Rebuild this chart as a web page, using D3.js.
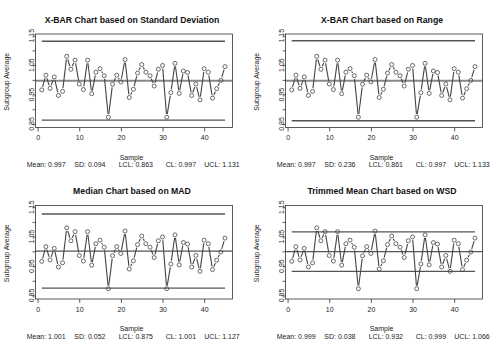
<!DOCTYPE html>
<html>
<head>
<meta charset="utf-8">
<title>Control charts</title>
<script src="https://cdn.jsdelivr.net/npm/d3@7"></script>
<style>
html, body { margin: 0; padding: 0; background: #fff; }
svg { display: block; font-family: "Liberation Sans", Arial, sans-serif; }
</style>
</head>
<body>
<div id="chart"></div>
<script>
// subgroup averages (same samples on all four charts)
const subgroupAvg = [
    0.966, 1.016, 0.971, 1.010, 0.947, 0.961, 1.080, 1.036, 1.067, 0.986,
    0.967, 1.067, 0.953, 1.026, 1.038, 1.014, 0.873, 0.985, 1.016, 0.993,
    1.069, 0.940, 0.968, 1.023, 1.052, 1.026, 1.014, 0.979, 1.036, 1.049,
    0.873, 0.957, 1.056, 0.954, 1.030, 1.025, 0.947, 0.986, 0.932, 1.038,
    1.026, 0.938, 0.970, 0.998, 1.045
];

const titles = [
    "X-BAR Chart based on Standard Deviation",
    "X-BAR Chart based on Range",
    "Median Chart based on MAD",
    "Trimmed Mean Chart based on WSD"
];
const means = [0.997, 0.997, 1.001, 0.999];
const sds   = [0.094, 0.236, 0.052, 0.038];
const lcls  = [0.863, 0.861, 0.875, 0.932];
const cls   = [0.997, 0.997, 1.001, 0.999];
const ucls  = [1.131, 1.133, 1.127, 1.066];

const xTicks = [0, 10, 20, 30, 40];
const yTicks = [0.85, 0.90, 0.95, 1.00, 1.05, 1.10, 1.15];
const yLabels = [0.85, 0.95, 1.05, 1.15];

const W = 500, H = 343;
const svg = d3.select("#chart").append("svg").attr("width", W).attr("height", H);

// plot box inside one panel
const box = { left: 35.5, right: 232.5, top: 34, bottom: 127.5 };
const x = d3.scaleLinear().domain([-0.5, 46.8]).range([box.left, box.right]);
const y = d3.scaleLinear().domain([0.85, 1.15]).range([124, 35.7]);

const ink = "#333";

titles.forEach(function(t, i) {
    const g = svg.append("g")
        .attr("transform", "translate(" + (i % 2) * 250 + "," + Math.floor(i / 2) * 171.5 + ")");

    g.append("text").attr("x", 132).attr("y", 22.5)
        .attr("text-anchor", "middle").attr("font-size", 8.7).attr("font-weight", "bold")
        .attr("fill", "#111").text(t);

    // limit lines
    g.append("line").attr("x1", box.left).attr("x2", box.right)
        .attr("y1", y(cls[i])).attr("y2", y(cls[i]))
        .attr("stroke", i < 2 ? "#888" : "#555").attr("stroke-width", i < 2 ? 2 : 1.3);
    [lcls[i], ucls[i]].forEach(function(v) {
        g.append("line").attr("x1", x(1)).attr("x2", x(subgroupAvg.length))
            .attr("y1", y(v)).attr("y2", y(v))
            .attr("stroke", "#555").attr("stroke-width", 1.4);
    });

    // points + broken connecting lines (type "b")
    const pts = subgroupAvg.map(function(v, k) { return [x(k + 1), y(v)]; });
    const gap = 3.2;
    for (let k = 0; k < pts.length - 1; k++) {
        const a = pts[k], b = pts[k + 1];
        const dx = b[0] - a[0], dy = b[1] - a[1];
        const len = Math.sqrt(dx * dx + dy * dy);
        if (len <= 2 * gap) continue;
        const ux = dx / len, uy = dy / len;
        g.append("line")
            .attr("x1", a[0] + ux * gap).attr("y1", a[1] + uy * gap)
            .attr("x2", b[0] - ux * gap).attr("y2", b[1] - uy * gap)
            .attr("stroke", "#444").attr("stroke-width", 1.1);
    }
    g.selectAll("circle.pt").data(pts).enter().append("circle")
        .attr("class", "pt")
        .attr("cx", function(d) { return d[0]; })
        .attr("cy", function(d) { return d[1]; })
        .attr("r", 2).attr("fill", "none").attr("stroke", "#444").attr("stroke-width", 0.8);

    // box
    g.append("rect").attr("x", box.left).attr("y", box.top)
        .attr("width", box.right - box.left).attr("height", box.bottom - box.top)
        .attr("fill", "none").attr("stroke", ink).attr("stroke-width", 0.8);

    // x axis
    const xa = g.append("g").attr("transform", "translate(0," + box.bottom + ")")
        .call(d3.axisBottom(x).tickValues(xTicks).tickSize(4).tickPadding(4).tickFormat(d3.format("d")));
    xa.select(".domain").remove();
    xa.selectAll("line").attr("stroke", ink).attr("stroke-width", 0.8);
    xa.selectAll("text").attr("font-size", 7).attr("fill", "#222").attr("font-family", null);

    // y axis, labels rotated like base R
    const ya = g.append("g").attr("transform", "translate(" + box.left + ",0)")
        .call(d3.axisLeft(y).tickValues(yTicks).tickSize(3).tickFormat(""));
    ya.select(".domain").remove();
    ya.selectAll("line").attr("stroke", ink).attr("stroke-width", 0.8);
    g.selectAll("text.ylab").data(yLabels).enter().append("text")
        .attr("class", "ylab")
        .attr("transform", function(d) { return "translate(33.8," + y(d) + ") rotate(-90)"; })
        .attr("text-anchor", "middle").attr("font-size", 7).attr("fill", "#222")
        .text(function(d) { return d3.format(".2f")(d); });

    g.append("text").attr("transform", "translate(8.5,81.7) rotate(-90)")
        .attr("text-anchor", "middle").attr("font-size", 7).attr("fill", "#222")
        .text("Subgroup Average");
    g.append("text").attr("x", 131.5).attr("y", 159.6)
        .attr("text-anchor", "middle").attr("font-size", 7).attr("fill", "#222")
        .text("Sample");

    // summary line
    const fmt = d3.format(".3f");
    const parts = [
        ["Mean: " + fmt(means[i]), 26.7],
        ["SD: " + fmt(sds[i]), 74.3],
        ["LCL: " + fmt(lcls[i]), 118.7],
        ["CL: " + fmt(cls[i]), 165.7],
        ["UCL: " + fmt(ucls[i]), 204.3]
    ];
    g.selectAll("text.sum").data(parts).enter().append("text")
        .attr("class", "sum")
        .attr("x", function(d) { return d[1]; }).attr("y", 167.4)
        .attr("font-size", 7).attr("fill", "#222")
        .text(function(d) { return d[0]; });
});
</script>
</body>
</html>
